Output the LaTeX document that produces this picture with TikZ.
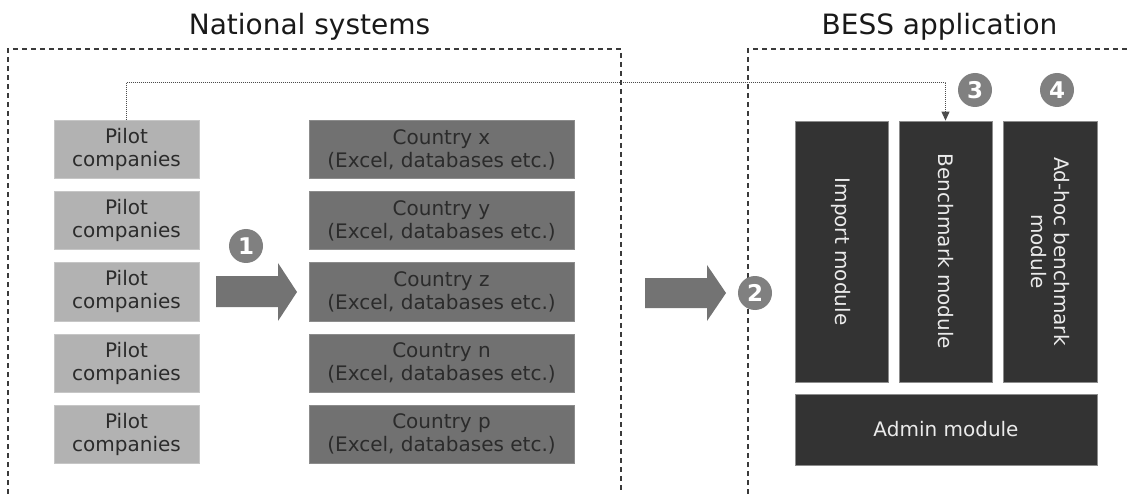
\documentclass[tikz,border=0pt]{standalone}
\usepackage{fontspec}
\setmainfont{DejaVu Sans}
\usetikzlibrary{arrows.meta}
\definecolor{pilotfill}{HTML}{B2B2B2}
\definecolor{pilotline}{HTML}{C6C6C6}
\definecolor{ctryfill}{HTML}{717171}
\definecolor{ctryline}{HTML}{8C8C8C}
\definecolor{modfill}{HTML}{333333}
\definecolor{modline}{HTML}{8C8C8C}
\definecolor{circfill}{HTML}{808080}
\definecolor{arrfill}{HTML}{737373}
\definecolor{txtdark}{HTML}{2B2B2B}
\definecolor{framecol}{HTML}{3A3A3A}
\begin{document}
\begin{tikzpicture}[x=1pt,y=-1pt,
 body/.style={font=\fontsize{20}{23}\selectfont, align=center, inner sep=0pt},
 pilot/.style={body, draw=pilotline, fill=pilotfill, text=txtdark, minimum width=145pt, minimum height=58pt, line width=0.8pt},
 ctry/.style={body, draw=ctryline, fill=ctryfill, text=txtdark, minimum width=265pt, minimum height=58pt, line width=0.8pt},
 modbox/.style={draw=modline, fill=modfill, inner sep=0pt, line width=0.8pt},
 modtext/.style={body, text=white!92!black},
 numc/.style={circle, fill=circfill, text=white, font=\fontsize{23}{23}\selectfont\bfseries, minimum size=34pt, inner sep=0pt},
 frame/.style={draw=framecol, line width=1.1pt, dash pattern=on 5pt off 4pt},
 title/.style={font=\fontsize{28}{28}\selectfont, anchor=base, inner sep=0pt, text=black!90},
 bigarrow/.style={fill=arrfill},
 flow/.style={draw=black!70, line width=0.9pt, dash pattern=on 1pt off 1pt, -{Triangle[length=9pt,width=8pt]}}
]
\useasboundingbox (0,0) rectangle (1129,494);

% frames
\draw[frame] (8,494) -- (8,49) -- (621,49) -- (621,494);
\draw[frame] (748,494) -- (748,49) -- (1129,49);

% titles
\node[title] (t1) at (309.5,35) {National systems};
\node[title] (t2) at (939.5,35) {BESS application};

% pilot companies
\foreach \i/\n in {0/p1,1/p2,2/p3,3/p4,4/p5}{
  \node[pilot] (\n) at (126.5,{149.5+71.2*\i}) {Pilot\\companies};
}
% countries
\foreach \i/\c/\n in {0/x/c1,1/y/c2,2/z/c3,3/n/c4,4/p/c5}{
  \node[ctry] (\n) at (441.5,{149.5+71.2*\i}) {Country \c\\(Excel, databases etc.)};
}

% modules
\node[modbox, minimum width=93pt, minimum height=261pt] (imp) at (841.5,251.5) {};
\node[modbox, minimum width=93pt, minimum height=261pt] (bm) at (945.5,251.5) {};
\node[modbox, minimum width=94pt, minimum height=261pt] (adh) at (1050,251.5) {};
\node[modbox, minimum width=302pt, minimum height=71pt, modtext] (adm) at (946,429.5) {Admin module};
\node[modtext, rotate=-90] (impt) at (imp.center) {Import module};
\node[modtext, rotate=-90] (bmt) at (bm.center) {Benchmark module};
\node[modtext, rotate=-90] (adht) at (adh.center) {Ad-hoc benchmark\\module};

% big arrows
\fill[bigarrow] (216,276) -- (278,276) -- (278,263) -- (297,292) -- (278,321) -- (278,307) -- (216,307) -- cycle;
\fill[bigarrow] (645,278) -- (707,278) -- (707,265) -- (726,293) -- (707,321) -- (707,308) -- (645,308) -- cycle;

% dotted connector
\draw[flow] (p1.north) -- ++(0,-38) -| (bm.north);

% numbered circles
\node[numc] (n1) at (246,246) {1};
\node[numc] (n2) at (755,293) {2};
\node[numc] (n3) at (975,90) {3};
\node[numc] (n4) at (1057,90) {4};
\end{tikzpicture}
\end{document}
